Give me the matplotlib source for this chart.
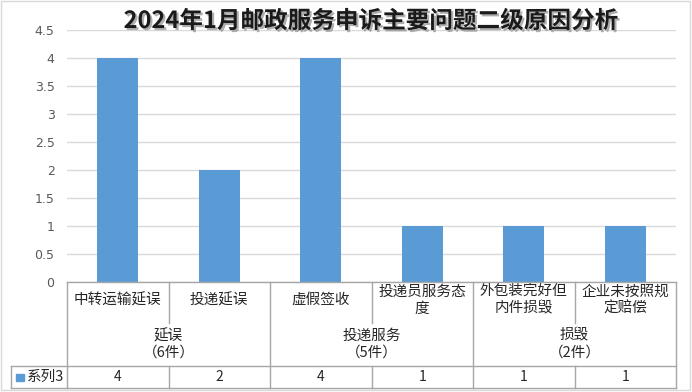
import matplotlib
matplotlib.use("Agg")
import matplotlib.pyplot as plt
from matplotlib.transforms import blended_transform_factory
from matplotlib.lines import Line2D
from matplotlib.patches import Rectangle
import matplotlib.patheffects as pe

plt.rcParams['font.family'] = ['Noto Sans CJK SC', 'DejaVu Sans']

title = "2024年1月邮政服务申诉主要问题二级原因分析"
categories = ["中转运输延误", "投递延误", "虚假签收", "投递员服务态\n度", "外包装完好但\n内件损毁", "企业未按照规\n定赔偿"]
groups = ["延误\n（6件）", "投递服务\n（5件）", "损毁\n（2件）"]
group_sizes = [2, 2, 2]
values = [4, 2, 4, 1, 1, 1]
series_name = "系列3"
yticks = [0, 0.5, 1, 1.5, 2, 2.5, 3, 3.5, 4, 4.5]

W, H = 692, 392
fig = plt.figure(figsize=(W / 100, H / 100), dpi=100)

def fy(py):
    return (H - py) / H

def fx(px):
    return px / W

ax_left, ax_right, ax_top, ax_bottom = 67, 676, 30, 282
ax = fig.add_axes([fx(ax_left), fy(ax_bottom), fx(ax_right) - fx(ax_left), fy(ax_top) - fy(ax_bottom)])
x = list(range(len(values)))
bar_color = "#5B9BD5"
ax.bar(x, values, width=0.4, color=bar_color, zorder=3)
ax.set_xlim(-0.5, len(values) - 0.5)
ax.set_ylim(0, 4.5)
ax.set_yticks(yticks)
ax.set_yticklabels([f"{t:g}" for t in yticks], fontsize=9, color="#595959", family=['DejaVu Sans'])
ax.tick_params(axis='y', length=0, pad=9)
ax.set_xticks([])
ax.grid(axis='y', color="#d9d9d9", linewidth=1, zorder=0)
for s in ["top", "right", "left", "bottom"]:
    ax.spines[s].set_visible(False)
ax.set_facecolor("none")

line_color = "#a6a6a6"
tr = blended_transform_factory(ax.transData, fig.transFigure)

def vline(xd, y0, y1):
    fig.add_artist(Line2D([xd, xd], [fy(y0), fy(y1)], transform=tr, color=line_color, linewidth=1))

def hline_px(x0, x1, y):
    fig.add_artist(Line2D([fx(x0), fx(x1)], [fy(y), fy(y)], transform=fig.transFigure, color=line_color, linewidth=1))

# axis line
hline_px(ax_left, ax_right, ax_bottom)
# table rows
hline_px(11, ax_right, 366)
hline_px(11, ax_right, 388)
vline(-0.5, ax_bottom, 388)
fig.add_artist(Line2D([fx(11), fx(11)], [fy(366), fy(388)], transform=fig.transFigure, color=line_color, linewidth=1))

boundaries = []
acc = 0
for g in group_sizes:
    acc += g
    boundaries.append(acc - 0.5)
for i in range(len(values)):
    b = i + 0.5
    if b in boundaries:
        vline(b, ax_bottom, 388)
    else:
        vline(b, ax_bottom, 323)
        vline(b, 366, 388)

text_color = "#262626"
for i, c in enumerate(categories):
    ax.text(i, fy(300), c, transform=tr, ha='center', va='center', fontsize=10.5,
            color=text_color, linespacing=1.3)

start = 0
for g, n in zip(groups, group_sizes):
    center = start + (n - 1) / 2
    ax.text(center, fy(344), g, transform=tr, ha='center', va='center', fontsize=10.5,
            color=text_color, linespacing=1.2)
    start += n

for i, v in enumerate(values):
    ax.text(i, fy(377), f"{v:g}", transform=tr, ha='center', va='center', fontsize=10,
            color=text_color)

fig.add_artist(Rectangle((fx(16), fy(381)), fx(8), fy(374) - fy(381), transform=fig.transFigure,
                         color=bar_color))
fig.text(fx(27), fy(377), series_name, ha='left', va='center', fontsize=10.5, color=text_color)

t = fig.text(fx(371), fy(21), title, ha='center', va='center', fontsize=17, fontweight='bold',
             color="#1a1a1a")
t.set_path_effects([pe.withSimplePatchShadow(offset=(1.5, -1.5), shadow_rgbFace="#9a9a9a", alpha=0.8)])

fig.add_artist(Rectangle((fx(1), fy(390)), fx(689), fy(1) - fy(390), transform=fig.transFigure,
                         fill=False, edgecolor="#d9d9d9", linewidth=1))

fig.savefig("out.png", dpi=100)
